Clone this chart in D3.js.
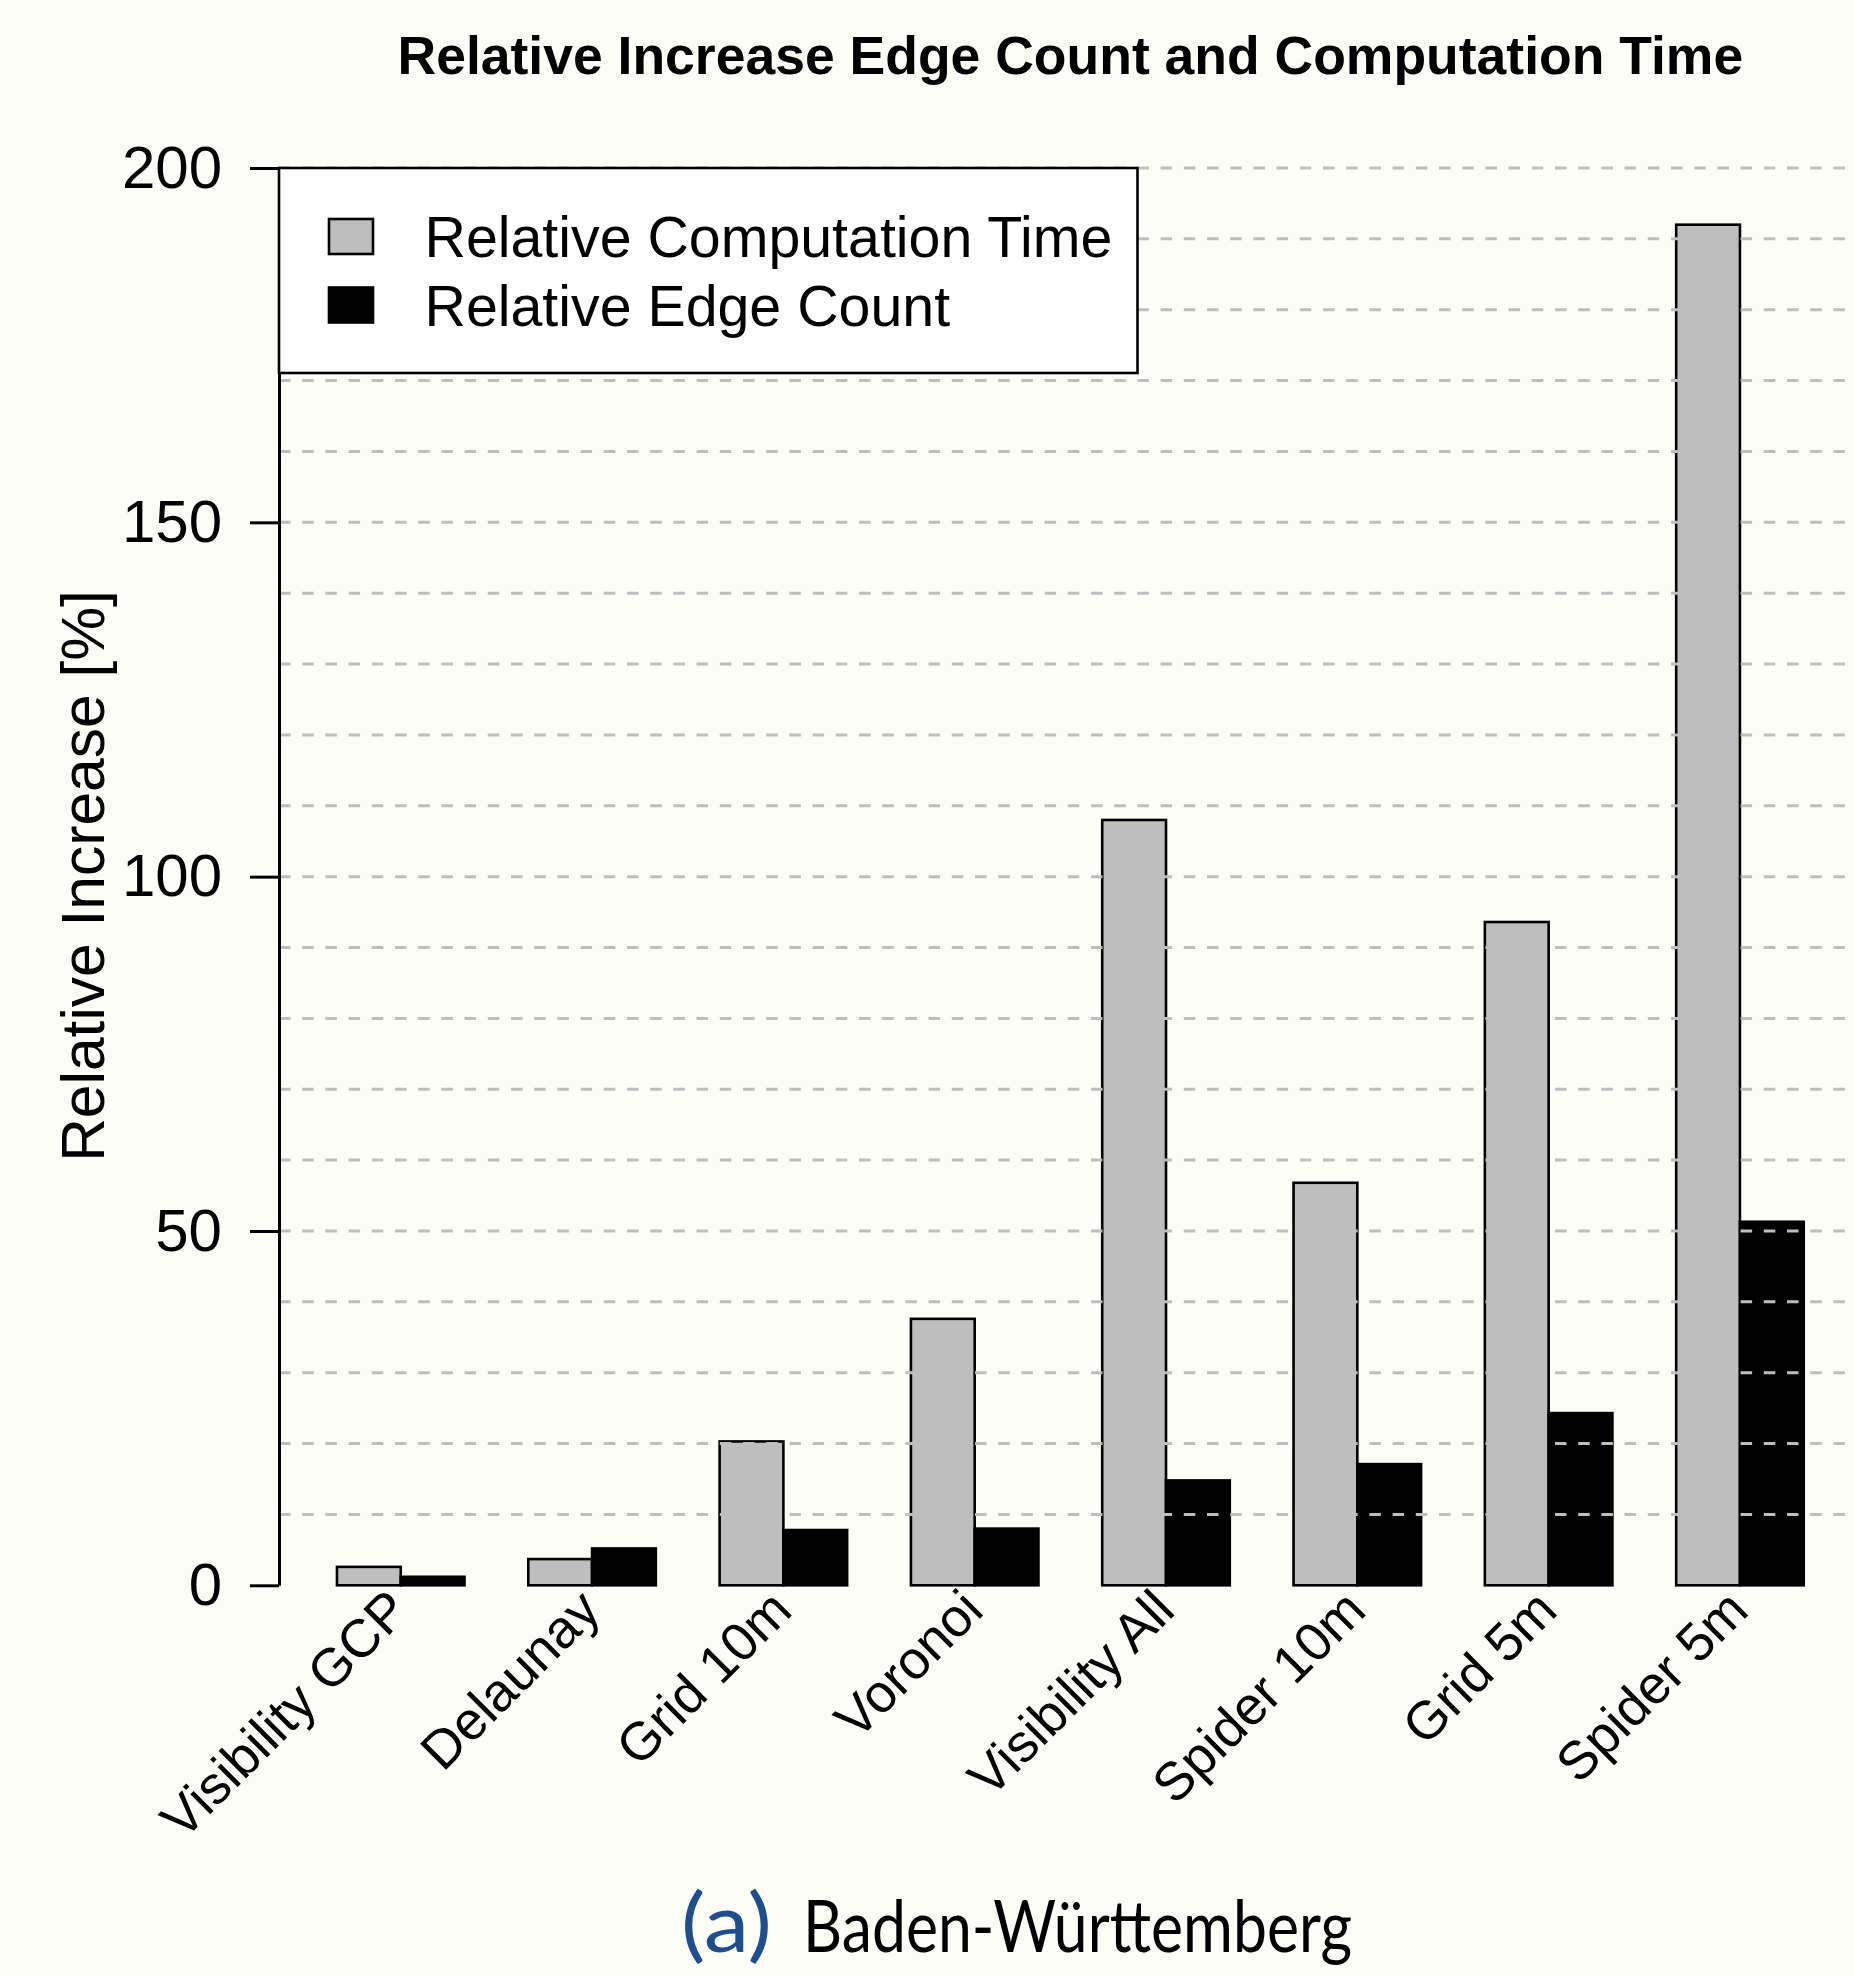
<!DOCTYPE html>
<html>
<head>
<meta charset="utf-8">
<script src="https://cdn.jsdelivr.net/npm/d3@7"></script>
<style>
  html, body { margin: 0; padding: 0; background: #fdfdf8; }
  svg { display: block; }
  text { font-family: "Liberation Sans", Arial, Helvetica, sans-serif; }
</style>
</head>
<body>
<svg id="chart" width="1854" height="1977"></svg>
<script>
// Methods compared (x categories, in drawing order)
const categories = ["Visibility GCP", "Delaunay", "Grid 10m", "Voronoi", "Visibility All", "Spider 10m", "Grid 5m", "Spider 5m"];
// Relative increase of computation time [%]
const computationTime = [2.6, 3.7, 20.3, 37.6, 108.0, 56.8, 93.6, 192.0];
// Relative increase of edge count [%]
const edgeCount = [1.2, 5.2, 7.8, 8.0, 14.8, 17.1, 24.3, 51.3];
// Series names and fills
const seriesNames = ["Relative Computation Time", "Relative Edge Count"];
const seriesKeys = ["time", "edges"];
const seriesFill = ["#bebebe", "#000000"];
// Y axis tick labels
const yTicks = [0, 50, 100, 150, 200];

const svg = d3.select("#chart");

// Plot region (the axis sits on its left edge)
const plot = { left: 278.3, right: 1862.4, top: 168, bottom: 1585.3, axisX: 279 };

const y = d3.scaleLinear().domain([0, 200]).range([plot.bottom, plot.top]);

const x0 = d3.scaleBand()
  .domain(categories)
  .range([plot.left, plot.right])
  .paddingInner(1 / 3)
  .paddingOuter(0.92 / 3);

const x1 = d3.scaleBand()
  .domain(seriesKeys)
  .range([0, x0.bandwidth()])
  .padding(0);

const rows = categories.map((c, i) => ({
  cat: c,
  values: [
    { key: "time", v: computationTime[i] },
    { key: "edges", v: edgeCount[i] }
  ]
}));

// Bars
const groups = svg.append("g").attr("class", "bars")
  .selectAll("g")
  .data(rows)
  .join("g")
  .attr("transform", d => `translate(${x0(d.cat)},0)`);

groups.selectAll("rect")
  .data(d => d.values)
  .join("rect")
  .attr("x", d => x1(d.key))
  .attr("y", d => y(d.v))
  .attr("width", x1.bandwidth())
  .attr("height", d => y(0) - y(d.v))
  .attr("fill", d => seriesFill[seriesKeys.indexOf(d.key)])
  .attr("stroke", "#000")
  .attr("stroke-width", 2.6);

// Dashed horizontal grid drawn over the bars
const gridVals = y.ticks(20).filter(v => v > 0);
svg.append("g").attr("class", "grid")
  .selectAll("line")
  .data(gridVals)
  .join("line")
  .attr("x1", plot.axisX)
  .attr("x2", 1854)
  .attr("y1", d => y(d))
  .attr("y2", d => y(d))
  .attr("stroke", "#bebebe")
  .attr("stroke-width", 3)
  .attr("stroke-dasharray", "11.5 11.7");

// Y axis
const yAxis = d3.axisLeft(y)
  .tickValues(yTicks)
  .tickSize(29)
  .tickSizeOuter(0)
  .tickPadding(28)
  .tickFormat(d3.format("d"));

const ya = svg.append("g")
  .attr("transform", `translate(${plot.axisX},0)`)
  .call(yAxis);
ya.select(".domain").attr("stroke", "#000").attr("stroke-width", 3);
ya.selectAll(".tick line").attr("stroke", "#000").attr("stroke-width", 3);
ya.selectAll(".tick text")
  .attr("fill", "#000")
  .style("font-size", "60px")
  .style("font-family", "'Liberation Sans', Arial, sans-serif");

// Category labels, rotated 45 degrees, right end vertically centred on the anchor
svg.append("g").attr("class", "xlabels")
  .selectAll("text")
  .data(categories)
  .join("text")
  .attr("transform", d => `translate(${x0(d) + x0.bandwidth() / 2 - 2},1600) rotate(-45)`)
  .attr("text-anchor", "end")
  .attr("dy", "0.34em")
  .style("font-size", "53.5px")
  .attr("fill", "#000")
  .text(d => d);

// Y axis title
svg.append("text")
  .attr("transform", "translate(104,876) rotate(-90)")
  .attr("text-anchor", "middle")
  .style("font-size", "60.5px")
  .attr("fill", "#000")
  .text("Relative Increase [%]");

// Chart title
svg.append("text")
  .attr("x", (plot.left + plot.right) / 2)
  .attr("y", 74)
  .attr("text-anchor", "middle")
  .style("font-size", "53.5px")
  .style("font-weight", "bold")
  .attr("fill", "#000")
  .text("Relative Increase Edge Count and Computation Time");

// Legend (top-left of the plot region)
const legend = svg.append("g").attr("class", "legend");
legend.append("rect")
  .attr("x", plot.axisX)
  .attr("y", plot.top)
  .attr("width", 858.5)
  .attr("height", 205)
  .attr("fill", "#ffffff")
  .attr("stroke", "#000")
  .attr("stroke-width", 2.6);

const legendRowY = [236.5, 305];
seriesNames.forEach((name, i) => {
  legend.append("rect")
    .attr("x", 329)
    .attr("y", legendRowY[i] - 17.5)
    .attr("width", 44)
    .attr("height", 35)
    .attr("fill", seriesFill[i])
    .attr("stroke", "#000")
    .attr("stroke-width", 2.6);
  legend.append("text")
    .attr("x", 424.5)
    .attr("y", legendRowY[i])
    .attr("dy", "0.36em")
    .style("font-size", "57.3px")
    .attr("fill", "#000")
    .text(name);
});

// Sub-figure caption
const cap = svg.append("g").attr("class", "caption");
cap.append("text")
  .attr("x", 681)
  .attr("y", 1952)
  .attr("textLength", 91)
  .attr("lengthAdjust", "spacingAndGlyphs")
  .style("font-size", "82px")
  .style("font-family", "Lato, 'Open Sans', sans-serif")
  .attr("fill", "#1f4e8c")
  .text("(a)");
cap.append("text")
  .attr("x", 803)
  .attr("y", 1952)
  .attr("textLength", 549)
  .attr("lengthAdjust", "spacingAndGlyphs")
  .style("font-size", "71px")
  .style("font-family", "Lato, 'Open Sans', sans-serif")
  .attr("fill", "#000")
  .text("Baden-Württemberg");
</script>
</body>
</html>
